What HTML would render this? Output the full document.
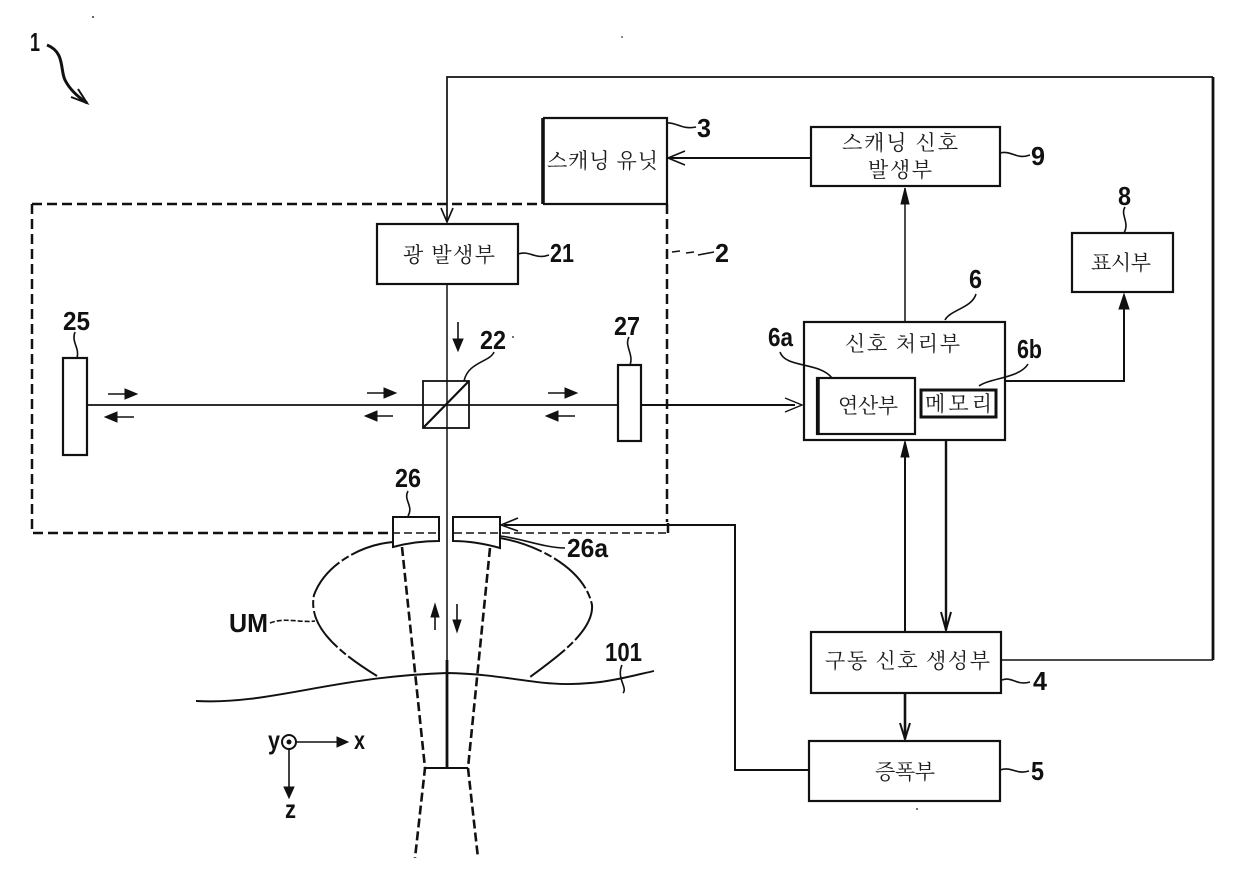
<!DOCTYPE html>
<html>
<head>
<meta charset="utf-8">
<style>
html,body{margin:0;padding:0;background:#fff;width:1240px;height:893px;overflow:hidden}
svg{display:block}
.k{font-family:"Liberation Serif","Noto Serif CJK KR","Noto Sans CJK KR",serif;font-size:21px;letter-spacing:2px;fill:#1c1c1c;text-anchor:start;stroke:none}
.n{font-family:"Liberation Sans",sans-serif;font-size:26px;font-weight:bold;fill:#111;stroke:none}
.b,.l,.t,.a,.d{fill:none;stroke:#111}
.f{fill:#111;stroke:#111}
</style>
</head>
<body>
<svg width="1240" height="893" viewBox="0 0 1240 893" xmlns="http://www.w3.org/2000/svg" stroke-width="2.2">
<!-- dashed enclosure -->
<path class="d" stroke-width="2.5" stroke-dasharray="10 5" d="M32 204H542M667 204V522M32 204V533H393M668 533V522"/>
<path class="d" stroke-width="1.6" stroke-dasharray="8 4" d="M392 533H440M454 533H668"/>
<!-- blocks -->
<path class="b" stroke-width="2.2" d="M543 118H667V204H543"/>
<path class="b" stroke-width="3.6" d="M543 118V204"/>
<rect class="b" x="811" y="127" width="189" height="59"/>
<rect class="b" x="377" y="224" width="141" height="60"/>
<rect class="b" x="1072" y="233" width="101" height="59"/>
<rect class="b" x="804" y="322" width="201" height="118"/>
<rect class="b" x="817" y="378" width="98" height="56"/>
<path class="b" stroke-width="3.5" d="M818 378V434"/>
<rect class="b" x="921" y="390" width="75" height="27" stroke-width="3"/>
<rect class="b" x="811" y="632" width="190" height="61"/>
<rect class="b" x="809" y="741" width="191" height="60"/>
<rect class="b" x="63" y="358" width="24" height="97"/>
<rect class="b" x="618" y="365" width="23" height="76"/>
<rect class="b" x="423" y="381" width="46" height="47" stroke-width="1.8"/>
<path class="b" stroke-width="2.2" d="M423 428L469 381"/>
<!-- transducers -->
<path class="b" stroke-width="2" d="M393 517H439V541Q415 541 393 547Z"/>
<path class="b" stroke-width="2" d="M453 517H500V548Q475 541 453 541Z"/>
<!-- beams -->
<path class="l" stroke-width="1.8" d="M87 405H618"/>
<path class="l" stroke-width="2" d="M641 405H795"/>
<path class="a" stroke-width="1.4" d="M785 398L802 405L785 412"/>
<path class="l" stroke-width="1.5" d="M447 284V660"/>
<path class="l" stroke-width="2.8" d="M447 660V768"/>
<!-- top feedback -->
<path class="l" stroke-width="1.7" d="M447 222V77H1213"/>
<path class="l" stroke-width="2.8" d="M1213 77V660"/>
<path class="l" stroke-width="1.5" d="M1213 660H1001"/>
<path class="a" stroke-width="1.6" d="M441 208L447 222L453 208"/>
<!-- connectors -->
<path class="l" stroke-width="2" d="M811 158H670"/>
<path class="a" stroke-width="1.6" d="M685 151L668 158L685 165"/>
<path class="l" stroke-width="1.5" d="M905 322V188"/>
<path class="f" stroke-width="1" d="M905 188L901 204H909Z"/>
<path class="l" stroke-width="2" d="M1005 381H1124V296"/>
<path class="f" stroke-width="1" d="M1124 294L1119 309H1129Z"/>
<path class="l" stroke-width="2" d="M905 632V443"/>
<path class="f" stroke-width="1" d="M905 441L901 457H909Z"/>
<path class="l" stroke-width="2.4" d="M946 440V630"/>
<path class="a" stroke-width="2" d="M941 612L946 630L951 612"/>
<path class="l" stroke-width="2.6" d="M905 693V739"/>
<path class="a" stroke-width="2" d="M900 723L905 739L910 723"/>
<path class="l" stroke-width="2" d="M809 770H735V525H504"/>
<path class="a" stroke-width="1.6" d="M518 518L501 525L518 531"/>
<!-- small arrows -->
<path class="a" stroke-width="1.6" d="M108 394H135"/><path class="f" stroke-width="1" d="M137 394L125 389V399Z"/>
<path class="a" stroke-width="1.6" d="M107 417H134"/><path class="f" stroke-width="1" d="M105 417L117 412V422Z"/>
<path class="a" stroke-width="1.6" d="M367 393H394"/><path class="f" stroke-width="1" d="M396 393L384 388V398Z"/>
<path class="a" stroke-width="1.6" d="M366 416H393"/><path class="f" stroke-width="1" d="M365 416L377 411V421Z"/>
<path class="a" stroke-width="1.6" d="M548 393H575"/><path class="f" stroke-width="1" d="M577 393L565 388V398Z"/>
<path class="a" stroke-width="1.6" d="M548 416H575"/><path class="f" stroke-width="1" d="M546 416L558 411V421Z"/>
<path class="a" stroke-width="1.6" d="M458 322V349"/><path class="f" stroke-width="1" d="M458 351L453 339H463Z"/>
<path class="a" stroke-width="1.6" d="M435 608V630"/><path class="f" stroke-width="1" d="M435 604L431 617H439Z"/>
<path class="a" stroke-width="1.6" d="M457 604V630"/><path class="f" stroke-width="1" d="M457 632L453 620H461Z"/>
<!-- focus and dashed beam -->
<path class="d" stroke-width="2.6" stroke-dasharray="9 4" d="M402 547L425 768L415 858"/>
<path class="d" stroke-width="2.6" stroke-dasharray="9 4" d="M490 548L468 768L478 858"/>
<path class="l" stroke-width="2" d="M425 768H468"/>
<!-- water bag -->
<path class="l" stroke-width="2" stroke-dasharray="44 3 8 3" d="M393 542C360 545 325 565 314 595C308 625 335 650 377 676"/>
<path class="l" stroke-width="2" stroke-dasharray="44 3 8 3" d="M500 538C540 545 585 570 592 605C594 630 560 655 530 677"/>
<path class="l" stroke-width="1.9" d="M196 701C270 705 330 677 447 673C510 674 540 688 590 683C610 682 640 674 654 671"/>
<!-- coordinate -->
<circle cx="289" cy="742" r="7" fill="#fff" stroke="#111" stroke-width="2"/>
<circle cx="289" cy="742" r="2.5" fill="#111"/>
<path class="a" stroke-width="1.6" d="M296 742H345"/><path class="f" stroke-width="1" d="M348 742L337 737V747Z"/>
<path class="a" stroke-width="1.6" d="M289 749V795"/><path class="f" stroke-width="1" d="M289 798L284 787H294Z"/>
<!-- leader squiggles -->
<path class="t" stroke-width="1.6" d="M667 123C676 122 682 130 696 127"/>
<path class="t" stroke-width="1.6" d="M1000 153C1012 150 1016 160 1030 155"/>
<path class="t" stroke-width="1.6" d="M518 254C530 250 535 260 549 255"/>
<path class="t" stroke-width="1.6" d="M672 252L680 251M686 253L694 252M698 255L714 252"/>
<path class="t" stroke-width="1.6" d="M1125 207C1120 215 1130 222 1124 233"/>
<path class="t" stroke-width="1.6" d="M945 320C950 310 972 308 976 294"/>
<path class="t" stroke-width="1.6" d="M780 352C785 368 820 362 832 378"/>
<path class="t" stroke-width="1.6" d="M979 386C990 378 1020 378 1028 364"/>
<path class="t" stroke-width="1.6" d="M1002 680C1012 676 1016 686 1030 682"/>
<path class="t" stroke-width="1.6" d="M1000 770C1012 766 1016 775 1029 771"/>
<path class="t" stroke-width="1.6" d="M75 332C71 342 80 348 77 358"/>
<path class="t" stroke-width="1.6" d="M629 337C624 346 634 354 630 365"/>
<path class="t" stroke-width="1.6" d="M408 491C403 500 414 506 408 516"/>
<path class="t" stroke-width="1.6" d="M494 352C490 362 468 362 464 381"/>
<path class="t" stroke-width="1.6" d="M500 536C520 538 545 548 565 548"/>
<path class="t" stroke-width="1.6" stroke-dasharray="5 2" d="M270 623C285 617 300 623 315 621"/>
<path class="t" stroke-width="1.6" d="M622 665C616 678 628 688 623 693"/>
<path class="t" stroke-width="3" d="M47 45C65 52 60 70 65 80C70 90 78 97 87 103"/>
<path class="a" stroke-width="2" d="M71 97L87 103L78 89"/>
<circle cx="93" cy="17" r="1" fill="#333"/><circle cx="622" cy="37" r="1" fill="#666"/><circle cx="917" cy="809" r="1" fill="#444"/><circle cx="513" cy="337" r="1" fill="#444"/>
<!-- Korean labels -->
<text class="k" x="547" y="168" textLength="113">스캐닝 유닛</text>
<text class="k" x="842" y="150" textLength="118">스캐닝 신호</text>
<text class="k" x="868" y="177" textLength="66">발생부</text>
<text class="k" x="403" y="262" textLength="94">광 발생부</text>
<text class="k" x="1091" y="270" textLength="62">표시부</text>
<text class="k" x="845" y="351" textLength="117">신호 처리부</text>
<text class="k" x="838" y="413" textLength="62">연산부</text>
<text class="k" x="925" y="411" textLength="69">메모리</text>
<text class="k" x="825" y="668" textLength="167">구동 신호 생성부</text>
<text class="k" x="875" y="779" textLength="62">증폭부</text>
<!-- numbers -->
<text class="n" x="30" y="51" textLength="10" lengthAdjust="spacingAndGlyphs">1</text>
<text class="n" x="697" y="137" textLength="14" lengthAdjust="spacingAndGlyphs">3</text>
<text class="n" x="1031" y="165" textLength="14" lengthAdjust="spacingAndGlyphs">9</text>
<text class="n" x="550" y="262" textLength="24" lengthAdjust="spacingAndGlyphs">21</text>
<text class="n" x="715" y="262" textLength="14" lengthAdjust="spacingAndGlyphs">2</text>
<text class="n" x="1118" y="205" textLength="13" lengthAdjust="spacingAndGlyphs">8</text>
<text class="n" x="969" y="288" textLength="13" lengthAdjust="spacingAndGlyphs">6</text>
<text class="n" x="768" y="346" textLength="25" lengthAdjust="spacingAndGlyphs">6a</text>
<text class="n" x="1017" y="358" textLength="25" lengthAdjust="spacingAndGlyphs">6b</text>
<text class="n" x="63" y="330" textLength="27" lengthAdjust="spacingAndGlyphs">25</text>
<text class="n" x="614" y="335" textLength="26" lengthAdjust="spacingAndGlyphs">27</text>
<text class="n" x="480" y="349" textLength="26" lengthAdjust="spacingAndGlyphs">22</text>
<text class="n" x="395" y="487" textLength="26" lengthAdjust="spacingAndGlyphs">26</text>
<text class="n" x="567" y="557" textLength="41" lengthAdjust="spacingAndGlyphs">26a</text>
<text class="n" x="229" y="632" textLength="39" lengthAdjust="spacingAndGlyphs">UM</text>
<text class="n" x="605" y="661" textLength="37" lengthAdjust="spacingAndGlyphs">101</text>
<text class="n" x="1033" y="690" textLength="14" lengthAdjust="spacingAndGlyphs">4</text>
<text class="n" x="1031" y="780" textLength="13" lengthAdjust="spacingAndGlyphs">5</text>
<text class="n" x="268" y="749" textLength="12" lengthAdjust="spacingAndGlyphs">y</text>
<text class="n" x="354" y="749" textLength="11" lengthAdjust="spacingAndGlyphs">x</text>
<text class="n" x="285" y="818" textLength="11" lengthAdjust="spacingAndGlyphs">z</text>
</svg>
</body>
</html>
